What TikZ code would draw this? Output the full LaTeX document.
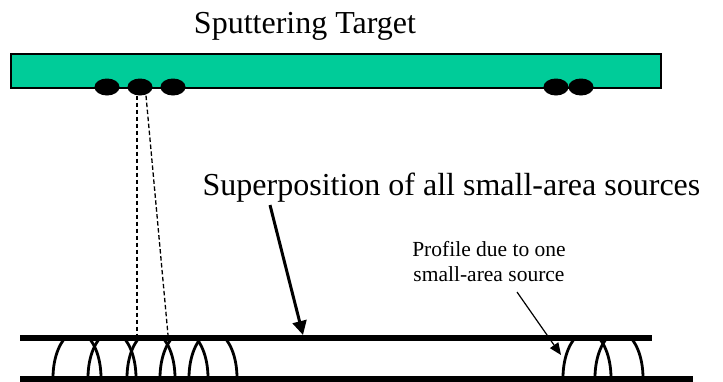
\documentclass[tikz,border=0pt]{standalone}
\usepackage{fontspec}
\setmainfont{Liberation Serif}
\usetikzlibrary{shapes.geometric,arrows.meta}
\definecolor{targetgreen}{RGB}{0,204,153}
\tikzset{
  targetbox/.style={draw=black, line width=1.2pt, fill=targetgreen, minimum width=650pt, minimum height=34pt, inner sep=0pt},
  spot/.style={ellipse, fill=black, minimum width=25pt, minimum height=17pt, inner sep=0pt},
  dashline/.style={line width=1.3pt, dash pattern=on 4.5pt off 2.5pt},
  heavyline/.style={line width=6pt},
  archline/.style={line width=2.8pt},
  bigtext/.style={font=\fontsize{32}{38}\selectfont, anchor=base, inner sep=0pt},
  smalltext/.style={font=\fontsize{21.5}{25}\selectfont, align=center, inner sep=0pt},
}
\begin{document}
\begin{tikzpicture}[x=1pt,y=-1pt]
\useasboundingbox (0,0) rectangle (723,381);
% target
\node[targetbox] (target) at (336,71) {};
\node[bigtext] (title) at (305,33) {Sputtering Target};
% spots
\node[spot] (s1) at (107,87) {};
\node[spot] (s2) at (140,87) {};
\node[spot] (s3) at (173,87) {};
\node[spot] (s4) at (556,87) {};
\node[spot] (s5) at (581,87) {};
% substrate lines
\coordinate (t1) at (20,337.5);
\coordinate (t2) at (652,337.5);
\coordinate (b1) at (20,378.5);
\coordinate (b2) at (693,378.5);
% arches
\begin{scope}
\clip (0,337) rectangle (723,381);
\foreach \c in {77,112,151,184,213,587,619}{
  \draw[archline] plot[domain=180:0, samples=60] ({\c+24*cos(\x)}, {378-46*sin(\x)});
}
\end{scope}
\draw[heavyline] (t1) -- (t2);
\draw[heavyline] (b1) -- (b2);
% dashed lines
\coordinate (d1) at (137,335);
\coordinate (d2) at (168,335);
\draw[dashline] ([xshift=-3pt]s2.south) -- (d1);
\draw[dashline] ([xshift=6pt]s2.south) -- (d2);
% texts
\node[bigtext] (sup) at (451.5,195) {Superposition of all small-area sources};
\node[smalltext] (prof) at (489,262) {Profile due to one\\small-area source};
% arrows
\coordinate (a1) at (270,205);
\coordinate (a2) at (303,335);
\draw[line width=3pt, -{Triangle[length=14pt,width=14pt]}] (a1) -- (a2);
\coordinate (p1) at (517,292);
\coordinate (p2) at (561,355);
\draw[line width=1.2pt, -{Triangle[length=12pt,width=10pt]}] (p1) -- (p2);
\end{tikzpicture}
\end{document}
